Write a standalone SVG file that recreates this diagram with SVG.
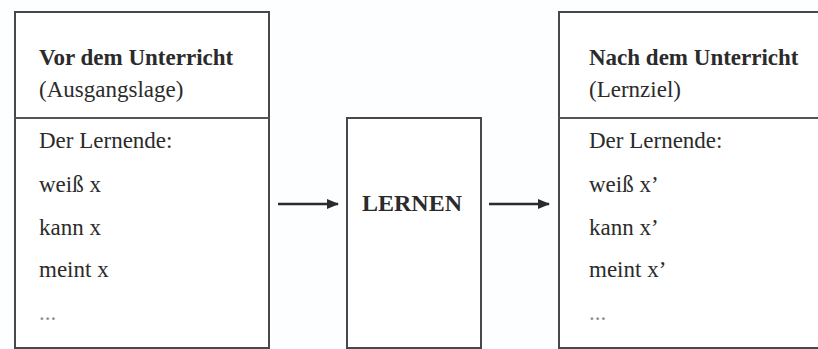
<svg xmlns="http://www.w3.org/2000/svg" width="818" height="349" viewBox="0 0 818 349">
  <style>
    .box { fill: #ffffff; stroke: #484848; stroke-width: 2; }
    .div { stroke: #555555; stroke-width: 2; }
    .t { font-family: "Liberation Serif", "Times New Roman", serif; font-size: 23px; fill: #2b2b2b; }
    .b { font-weight: bold; }
    .dots { fill: #8a8a8a; }
    .conn { stroke: #2b2b2b; stroke-width: 2.5; fill: none; }
  </style>
  <defs>
    <marker id="arr" markerWidth="12" markerHeight="10" refX="11" refY="5" orient="auto" markerUnits="userSpaceOnUse">
      <path d="M0,0 L12,5 L0,10 Z" fill="#2b2b2b"/>
    </marker>
  </defs>
  <rect x="0" y="0" width="818" height="349" fill="#fdfeff"/>

  <g id="vor">
    <rect class="box" x="15" y="12" width="254" height="336"/>
    <line class="div" x1="15" y1="118" x2="269" y2="118"/>
    <text class="t b" x="39" y="65">Vor dem Unterricht</text>
    <text class="t" x="39" y="97">(Ausgangslage)</text>
    <text class="t" x="39" y="148">Der Lernende:</text>
    <text class="t" x="39" y="192">weiß x</text>
    <text class="t" x="39" y="235">kann x</text>
    <text class="t" x="39" y="277">meint x</text>
    <text class="t dots" x="39" y="320">...</text>
  </g>

  <g id="lernen">
    <rect class="box" x="347" y="118" width="134" height="230"/>
    <text class="t b" x="412" y="211" font-size="24" text-anchor="middle" style="font-size:24px">LERNEN</text>
  </g>

  <g id="nach">
    <rect class="box" x="559" y="12" width="280" height="336"/>
    <line class="div" x1="559" y1="118" x2="830" y2="118"/>
    <text class="t b" x="589" y="65">Nach dem Unterricht</text>
    <text class="t" x="589" y="97">(Lernziel)</text>
    <text class="t" x="589" y="148">Der Lernende:</text>
    <text class="t" x="589" y="192">weiß x’</text>
    <text class="t" x="589" y="235">kann x’</text>
    <text class="t" x="589" y="277">meint x’</text>
    <text class="t dots" x="589" y="320">...</text>
  </g>

  <g id="connectors">
    <line class="conn" x1="278" y1="204" x2="338" y2="204" marker-end="url(#arr)"/>
    <line class="conn" x1="489" y1="204" x2="549" y2="204" marker-end="url(#arr)"/>
  </g>
</svg>
